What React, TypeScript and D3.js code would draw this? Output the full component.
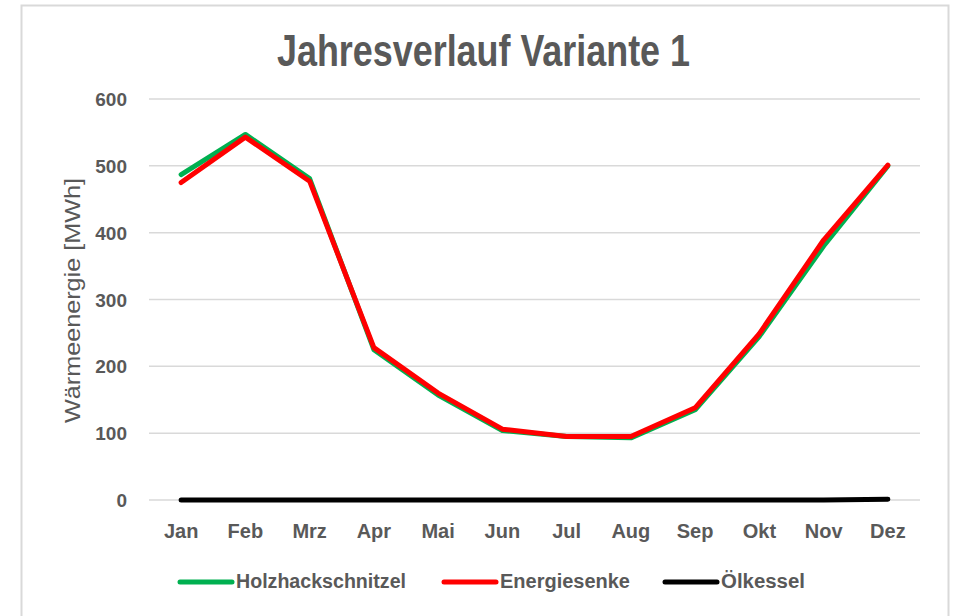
import { useRef, useEffect } from 'react';
import * as d3 from 'd3';

const months = ['Jan', 'Feb', 'Mrz', 'Apr', 'Mai', 'Jun', 'Jul', 'Aug', 'Sep', 'Okt', 'Nov', 'Dez'];
const holzhackschnitzel = [487, 547, 481, 225, 157, 104, 95, 93, 135, 245, 380, 500];
const energiesenke = [475, 543, 477, 228, 160, 106, 95, 95, 138, 249, 389, 501];
const oelkessel = [0, 0, 0, 0, 0, 0, 0, 0, 0, 0, 0, 1];
const yTicks = [0, 100, 200, 300, 400, 500, 600];

const series = [
  { name: 'Holzhackschnitzel', values: holzhackschnitzel, color: '#00b050' },
  { name: 'Energiesenke', values: energiesenke, color: '#ff0000' },
  { name: 'Ölkessel', values: oelkessel, color: '#000000' },
];

const W = 955;
const H = 616;
const FONT = '"Liberation Sans", Arial, sans-serif';
const TEXT = '#595959';

export default function App() {
  const svgRef = useRef<SVGSVGElement>(null);

  useEffect(() => {
    document.body.style.margin = '0';
    const svg = d3.select(svgRef.current);
    svg.selectAll('*').remove();

    // chart frame
    svg.append('rect').attr('x', 21.5).attr('y', 5.5).attr('width', 927).attr('height', 640)
      .attr('fill', '#fff').attr('stroke', '#d9d9d9').attr('stroke-width', 2);

    const x = d3.scaleBand<string>().domain(months).range([149, 920]);
    const y = d3.scaleLinear().domain([0, 600]).range([500, 99]);
    const cx = (m: string) => (x(m) ?? 0) + x.bandwidth() / 2;

    // gridlines + y ticks
    yTicks.forEach(t => {
      svg.append('line').attr('x1', 149).attr('x2', 920)
        .attr('y1', y(t)).attr('y2', y(t))
        .attr('stroke', '#d9d9d9').attr('stroke-width', 1.5);
      svg.append('text').attr('x', 127).attr('y', y(t) + 7)
        .attr('text-anchor', 'end').attr('fill', TEXT)
        .attr('font-family', FONT).attr('font-weight', 'bold').attr('font-size', 19)
        .text(t);
    });

    // x ticks
    months.forEach(m => {
      svg.append('text').attr('x', cx(m)).attr('y', 538)
        .attr('text-anchor', 'middle').attr('fill', TEXT)
        .attr('font-family', FONT).attr('font-weight', 'bold').attr('font-size', 20)
        .text(m);
    });

    // title
    svg.append('text').attr('x', 277).attr('y', 66)
      .attr('fill', TEXT).attr('font-family', FONT)
      .attr('font-weight', 'bold').attr('font-size', 45)
      .attr('textLength', 413).attr('lengthAdjust', 'spacingAndGlyphs')
      .text('Jahresverlauf Variante 1');

    // y axis title
    svg.append('text')
      .attr('transform', `translate(80,423) rotate(-90)`)
      .attr('fill', TEXT).attr('font-family', FONT).attr('font-size', 22)
      .attr('textLength', 245).attr('lengthAdjust', 'spacingAndGlyphs')
      .text('Wärmeenergie [MWh]');

    const line = d3.line<number>()
      .x((_, i) => cx(months[i]))
      .y(d => y(d));

    series.forEach(s => {
      svg.append('path').datum(s.values)
        .attr('d', line).attr('fill', 'none')
        .attr('stroke', s.color).attr('stroke-width', 5)
        .attr('stroke-linejoin', 'round').attr('stroke-linecap', 'round');
    });

    // legend
    const legendX = [180, 444, 665];
    const legendLen = [170, 130, 84];
    series.forEach((s, i) => {
      svg.append('line').attr('x1', legendX[i]).attr('x2', legendX[i] + 52)
        .attr('y1', 582).attr('y2', 582)
        .attr('stroke', s.color).attr('stroke-width', 5).attr('stroke-linecap', 'round');
      svg.append('text').attr('x', legendX[i] + 56).attr('y', 588)
        .attr('fill', TEXT).attr('font-family', FONT)
        .attr('font-weight', 'bold').attr('font-size', 20)
        .attr('textLength', legendLen[i]).attr('lengthAdjust', 'spacingAndGlyphs')
        .text(s.name);
    });
  }, []);

  return <svg ref={svgRef} width={W} height={H} style={{ display: 'block' }} />;
}
